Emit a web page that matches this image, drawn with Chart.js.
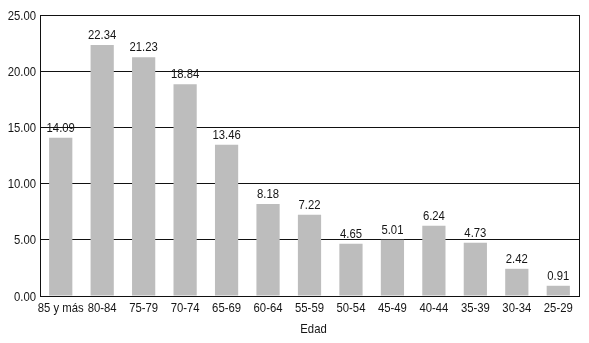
<!DOCTYPE html>
<html><head><meta charset="utf-8">
<script src="https://cdn.jsdelivr.net/npm/chart.js@4/dist/chart.umd.min.js"></script>
<style>html,body{margin:0;padding:0;background:#fff}#w{width:589px;height:343px}</style>
</head><body><div id="w"><canvas id="c"></canvas></div>
<script>
const categories = ["85 y más","80-84","75-79","70-74","65-69","60-64","55-59","50-54","45-49","40-44","35-39","30-34","25-29"];
const values = [14.09,22.34,21.23,18.84,13.46,8.18,7.22,4.65,5.01,6.24,4.73,2.42,0.91];
const yTicks = [0,5,10,15,20,25];
const axisTitle = "Edad";

const FONT = "'Liberation Sans', Arial, sans-serif";
const TXT = "#151515";
const FS = 13;
const SX = 0.87; // horizontal condensing of text

function condensedText(ctx, text, x, y, align) {
  ctx.save();
  ctx.translate(x, y);
  ctx.scale(SX, 1);
  ctx.textAlign = align;
  ctx.fillText(text, 0, 0);
  ctx.restore();
}

const textPlugin = {
  id: 'texts',
  afterDatasetsDraw(chart) {
    const ctx = chart.ctx;
    const meta = chart.getDatasetMeta(0);
    ctx.save();
    ctx.font = FS + "px " + FONT;
    ctx.fillStyle = TXT;
    ctx.textBaseline = 'alphabetic';
    meta.data.forEach((bar, i) => {
      condensedText(ctx, values[i].toFixed(2), bar.x, bar.y - 6, 'center');
    });
    ctx.restore();
  },
  afterDraw(chart) {
    const a = chart.chartArea, ctx = chart.ctx;
    const xs = chart.scales.x, ys = chart.scales.y;
    ctx.save();
    ctx.strokeStyle = "#111";
    ctx.lineWidth = 1;
    ctx.beginPath();
    ctx.moveTo(Math.round(a.right) + 0.5, a.top);
    ctx.lineTo(Math.round(a.right) + 0.5, a.bottom);
    ctx.stroke();
    ctx.font = FS + "px " + FONT;
    ctx.fillStyle = TXT;
    ctx.textBaseline = 'alphabetic';
    categories.forEach((c, i) => {
      condensedText(ctx, c, xs.getPixelForTick(i), a.bottom + 16, 'center');
    });
    yTicks.forEach(v => {
      condensedText(ctx, v.toFixed(2), a.left - 4, ys.getPixelForValue(v) + 4.5, 'right');
    });
    condensedText(ctx, axisTitle, (a.left + a.right) / 2 + 4, a.bottom + 37, 'center');
    ctx.restore();
  }
};

new Chart(document.getElementById('c'), {
  type: 'bar',
  data: { labels: categories, datasets: [{ data: values, backgroundColor: '#bdbdbd', categoryPercentage: 0.56, barPercentage: 1 }] },
  options: {
    responsive: true, maintainAspectRatio: false, animation: false,
    layout: { padding: { top: 15, right: 10, left: 0, bottom: 0 } },
    plugins: { legend: { display: false }, tooltip: { enabled: false } },
    scales: {
      x: {
        grid: { display: false, drawTicks: false },
        border: { display: true, color: '#111', width: 1 },
        ticks: { display: false },
        afterFit(s) { s.height = 47; }
      },
      y: {
        min: 0, max: 25,
        afterBuildTicks(s) { s.ticks = yTicks.map(v => ({ value: v })); },
        grid: { color: '#111', lineWidth: 1, drawTicks: false },
        border: { display: true, color: '#111', width: 1 },
        ticks: { display: false },
        afterFit(s) { s.width = 40; }
      }
    }
  },
  plugins: [textPlugin]
});
</script>
</body></html>
